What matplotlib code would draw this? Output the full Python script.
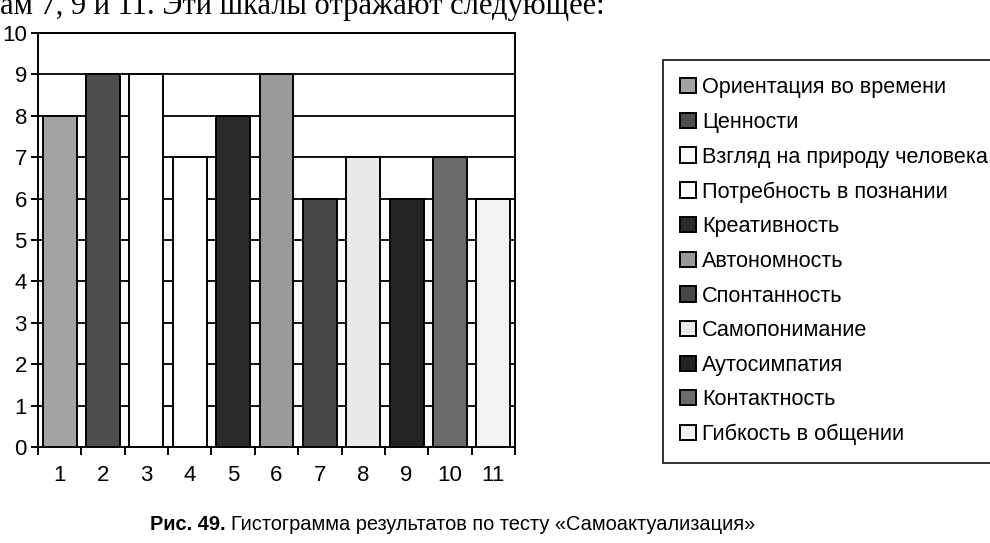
import numpy as np
import matplotlib
matplotlib.use('Agg')
import matplotlib.pyplot as plt

plt.rcParams['font.family'] = ['Liberation Sans', 'DejaVu Sans']

# scales of the "Самоактуализация" test
names = ['Ориентация во времени', 'Ценности', 'Взгляд на природу человека',
         'Потребность в познании', 'Креативность', 'Автономность',
         'Спонтанность', 'Самопонимание', 'Аутосимпатия', 'Контактность',
         'Гибкость в общении']
values = [8, 9, 9, 7, 8, 9, 6, 7, 6, 7, 6]
shades = ['#a3a3a3', '#4e4e4e', '#ffffff', '#ffffff', '#2a2a2a', '#9a9a9a',
          '#474747', '#e9e9e9', '#232323', '#6a6a6a', '#f2f2f2']
xlabels = [str(i) for i in range(1, 12)]

fig = plt.figure(figsize=(9.9, 5.43), dpi=100)
ax = fig.add_axes([38/990, 1-447/543, 477/990, 414/543])

x = np.arange(1, 12)
for i in range(len(values)):
    ax.bar(x[i], values[i], width=0.78, color=shades[i], edgecolor='black',
           linewidth=1.4, label=names[i], zorder=3)

ax.set_xlim(0.5, 11.5)
ax.set_ylim(0, 10)
ax.set_yticks(range(0, 11))
ax.yaxis.grid(True, color='black', linewidth=1.3, zorder=0)
ax.set_axisbelow(True)
ax.set_xticks(x)
ax.set_xticklabels(xlabels)
ax.set_xticks(np.arange(0.5, 12, 1), minor=True)
ax.tick_params(axis='x', which='major', length=0, pad=13, labelsize=16)
ax.tick_params(axis='x', which='minor', length=6, width=1.4, direction='out')
ax.tick_params(axis='y', length=5, width=1.4, labelsize=16, pad=3)
for s in ax.spines.values():
    s.set_linewidth(1.4)

leg = fig.legend(loc='upper left', bbox_to_anchor=(663/990, 1-60/543),
                 fontsize=15.6, frameon=True, fancybox=False, edgecolor='black',
                 handlelength=0.7, handleheight=0.7, handletextpad=0.3,
                 labelspacing=0.63, borderpad=0.8, borderaxespad=0)
leg.get_frame().set_linewidth(1.4)

fig.text(0.0, 1-14/543, 'ам 7, 9 и 11. Эти шкалы отражают следующее:',
         family='Liberation Serif', fontsize=22, va='baseline', ha='left')

t1 = fig.text(150/990, 1-530/543, 'Рис. 49.', fontsize=14.4, weight='bold',
              ha='left', va='baseline')
ax.annotate('Гистограмма результатов по тесту «Самоактуализация»',
            xy=(1, 0), xycoords=t1, xytext=(4, 0), textcoords='offset points',
            fontsize=14.4, ha='left', va='bottom', annotation_clip=False)

fig.savefig('out.png', dpi=100)
